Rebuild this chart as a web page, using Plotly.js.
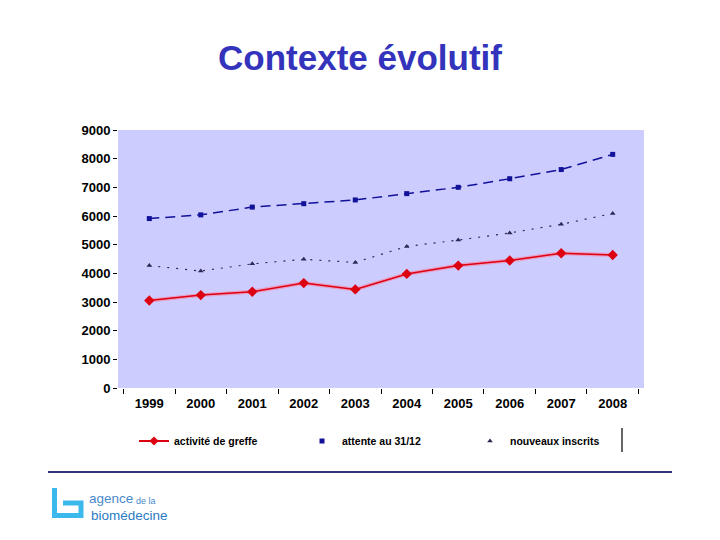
<!DOCTYPE html>
<html>
<head>
<meta charset="utf-8">
<script src="https://cdn.plot.ly/plotly-3.0.1.min.js"></script>
<style>
  body { margin: 0; background: #fff; }
  #plot { width: 720px; height: 540px; }
</style>
</head>
<body>
<div id="plot"></div>
<script>
const years = ['1999', '2000', '2001', '2002', '2003', '2004', '2005', '2006', '2007', '2008'];

const activite = [3050, 3240, 3360, 3660, 3440, 3980, 4270, 4450, 4700, 4640];
const attente = [5910, 6040, 6310, 6430, 6560, 6780, 7000, 7300, 7620, 8150];
const inscrits = [4270, 4080, 4330, 4490, 4380, 4940, 5160, 5410, 5710, 6090];

const names = ['activité de greffe', 'attente au 31/12', 'nouveaux inscrits'];

// plot area in pixels, used to place decorations outside the axes
const L = 118, R = 644, T = 130, B = 388;
function px(x) { return (x - L) / (R - L); }
function py(y) { return (B - y) / (B - T); }

let halo = {
    x: years, y: activite,
    mode: 'lines',
    line: { color: 'rgba(255,120,150,0.55)', width: 4 },
    hoverinfo: 'skip',
    showlegend: false,
    type: 'scatter'
};

let data1 = {
    name: names[0],
    x: years, y: activite,
    mode: 'lines+markers',
    line: { color: '#DD0011', width: 1.5 },
    marker: { symbol: 'diamond', size: 8, color: '#DD0011' },
    showlegend: false,
    type: 'scatter'
};

let data2 = {
    name: names[1],
    x: years, y: attente,
    mode: 'lines+markers',
    line: { color: '#11119A', width: 1.5, dash: '10px,6px' },
    marker: { symbol: 'square', size: 5, color: '#11119A' },
    showlegend: false,
    type: 'scatter'
};

let data3 = {
    name: names[2],
    x: years, y: inscrits,
    mode: 'lines+markers',
    line: { color: '#2A2A55', width: 1.2, dash: '2px,7px' },
    marker: { symbol: 'triangle-up', size: 5, color: '#2A2A55' },
    showlegend: false,
    type: 'scatter'
};

// legend entries (Excel legend shows only markers for the dashed series)
let leg1 = { name: names[0], x: [null], y: [null], mode: 'lines+markers', type: 'scatter',
    line: { color: '#DD0011', width: 2 }, marker: { symbol: 'diamond', size: 7, color: '#DD0011' } };
let leg2 = { name: names[1], x: [null], y: [null], mode: 'markers', type: 'scatter',
    marker: { symbol: 'square', size: 5, color: '#11119A' } };
let leg3 = { name: names[2], x: [null], y: [null], mode: 'markers', type: 'scatter',
    marker: { symbol: 'triangle-up', size: 5, color: '#2A2A55' } };

const tickFont = { family: 'Liberation Sans, Arial, sans-serif', size: 13, color: '#000', weight: 'bold' };

let layout = {
    width: 720,
    height: 540,
    paper_bgcolor: '#ffffff',
    plot_bgcolor: '#CCCCFF',
    margin: { l: L, r: 720 - R, t: T, b: 540 - B },
    title: {
        text: 'Contexte évolutif',
        font: { family: 'Liberation Sans, Arial, sans-serif', size: 35, color: '#3333BB', weight: 'bold' },
        x: 0.5, xref: 'container', xanchor: 'center',
        y: 1 - 58 / 540, yanchor: 'middle'
    },
    xaxis: {
        type: 'category',
        categoryorder: 'array',
        categoryarray: years,
        tickson: 'boundaries',
        ticks: 'outside',
        ticklen: 5,
        tickcolor: '#000',
        tickfont: tickFont,
        ticklabelstandoff: 6,
        showgrid: false,
        showline: false,
        zeroline: false,
        fixedrange: true
    },
    yaxis: {
        range: [0, 9000],
        dtick: 1000,
        tick0: 0,
        ticks: 'outside',
        ticklen: 4,
        tickcolor: '#000',
        tickfont: tickFont,
        showgrid: false,
        showline: false,
        zeroline: false,
        minor: {
            tick0: 1000,
            dtick: 2000,
            ticks: '',
            showgrid: true,
            gridcolor: '#000',
            gridwidth: 1,
            griddash: 'dot'
        },
        fixedrange: true
    },
    showlegend: true,
    legend: {
        orientation: 'h',
        x: px(134), xanchor: 'left',
        y: py(441), yanchor: 'middle',
        entrywidth: 123,
        entrywidthmode: 'pixels',
        bgcolor: 'rgba(0,0,0,0)',
        font: { family: 'Liberation Sans, Arial, sans-serif', size: 10.5, color: '#000', weight: 'bold' }
    },
    shapes: [
        { type: 'line', xref: 'paper', yref: 'paper',
          x0: px(622), x1: px(622), y0: py(428), y1: py(452),
          line: { color: '#000', width: 1.2 } },
        { type: 'line', xref: 'paper', yref: 'paper',
          x0: px(48), x1: px(672), y0: py(472), y1: py(472),
          line: { color: '#333377', width: 2 } },
        { type: 'path', xref: 'paper', yref: 'paper',
          path: 'M ' + px(54.5) + ' ' + py(488) +
                ' L ' + px(54.5) + ' ' + py(515.5) +
                ' L ' + px(81) + ' ' + py(515.5) +
                ' L ' + px(81) + ' ' + py(503) +
                ' L ' + px(63) + ' ' + py(503),
          line: { color: '#3CB9EC', width: 5 } }
    ],
    annotations: [
        { text: 'agence', xref: 'paper', yref: 'paper', x: px(87), y: py(499),
          xanchor: 'left', yanchor: 'middle', showarrow: false,
          font: { family: 'Liberation Sans, Arial, sans-serif', size: 13.5, color: '#4A8ACB' } },
        { text: 'de la', xref: 'paper', yref: 'paper', x: px(134), y: py(501),
          xanchor: 'left', yanchor: 'middle', showarrow: false,
          font: { family: 'Liberation Sans, Arial, sans-serif', size: 9, color: '#4A8ACB' } },
        { text: 'biomédecine', xref: 'paper', yref: 'paper', x: px(89), y: py(515),
          xanchor: 'left', yanchor: 'middle', showarrow: false,
          font: { family: 'Liberation Sans, Arial, sans-serif', size: 13.5, color: '#2B7CC4' } }
    ]
};

Plotly.newPlot(document.getElementById('plot'), [halo, data2, data3, data1, leg1, leg2, leg3], layout, { displayModeBar: false, staticPlot: true });
</script>
</body>
</html>
